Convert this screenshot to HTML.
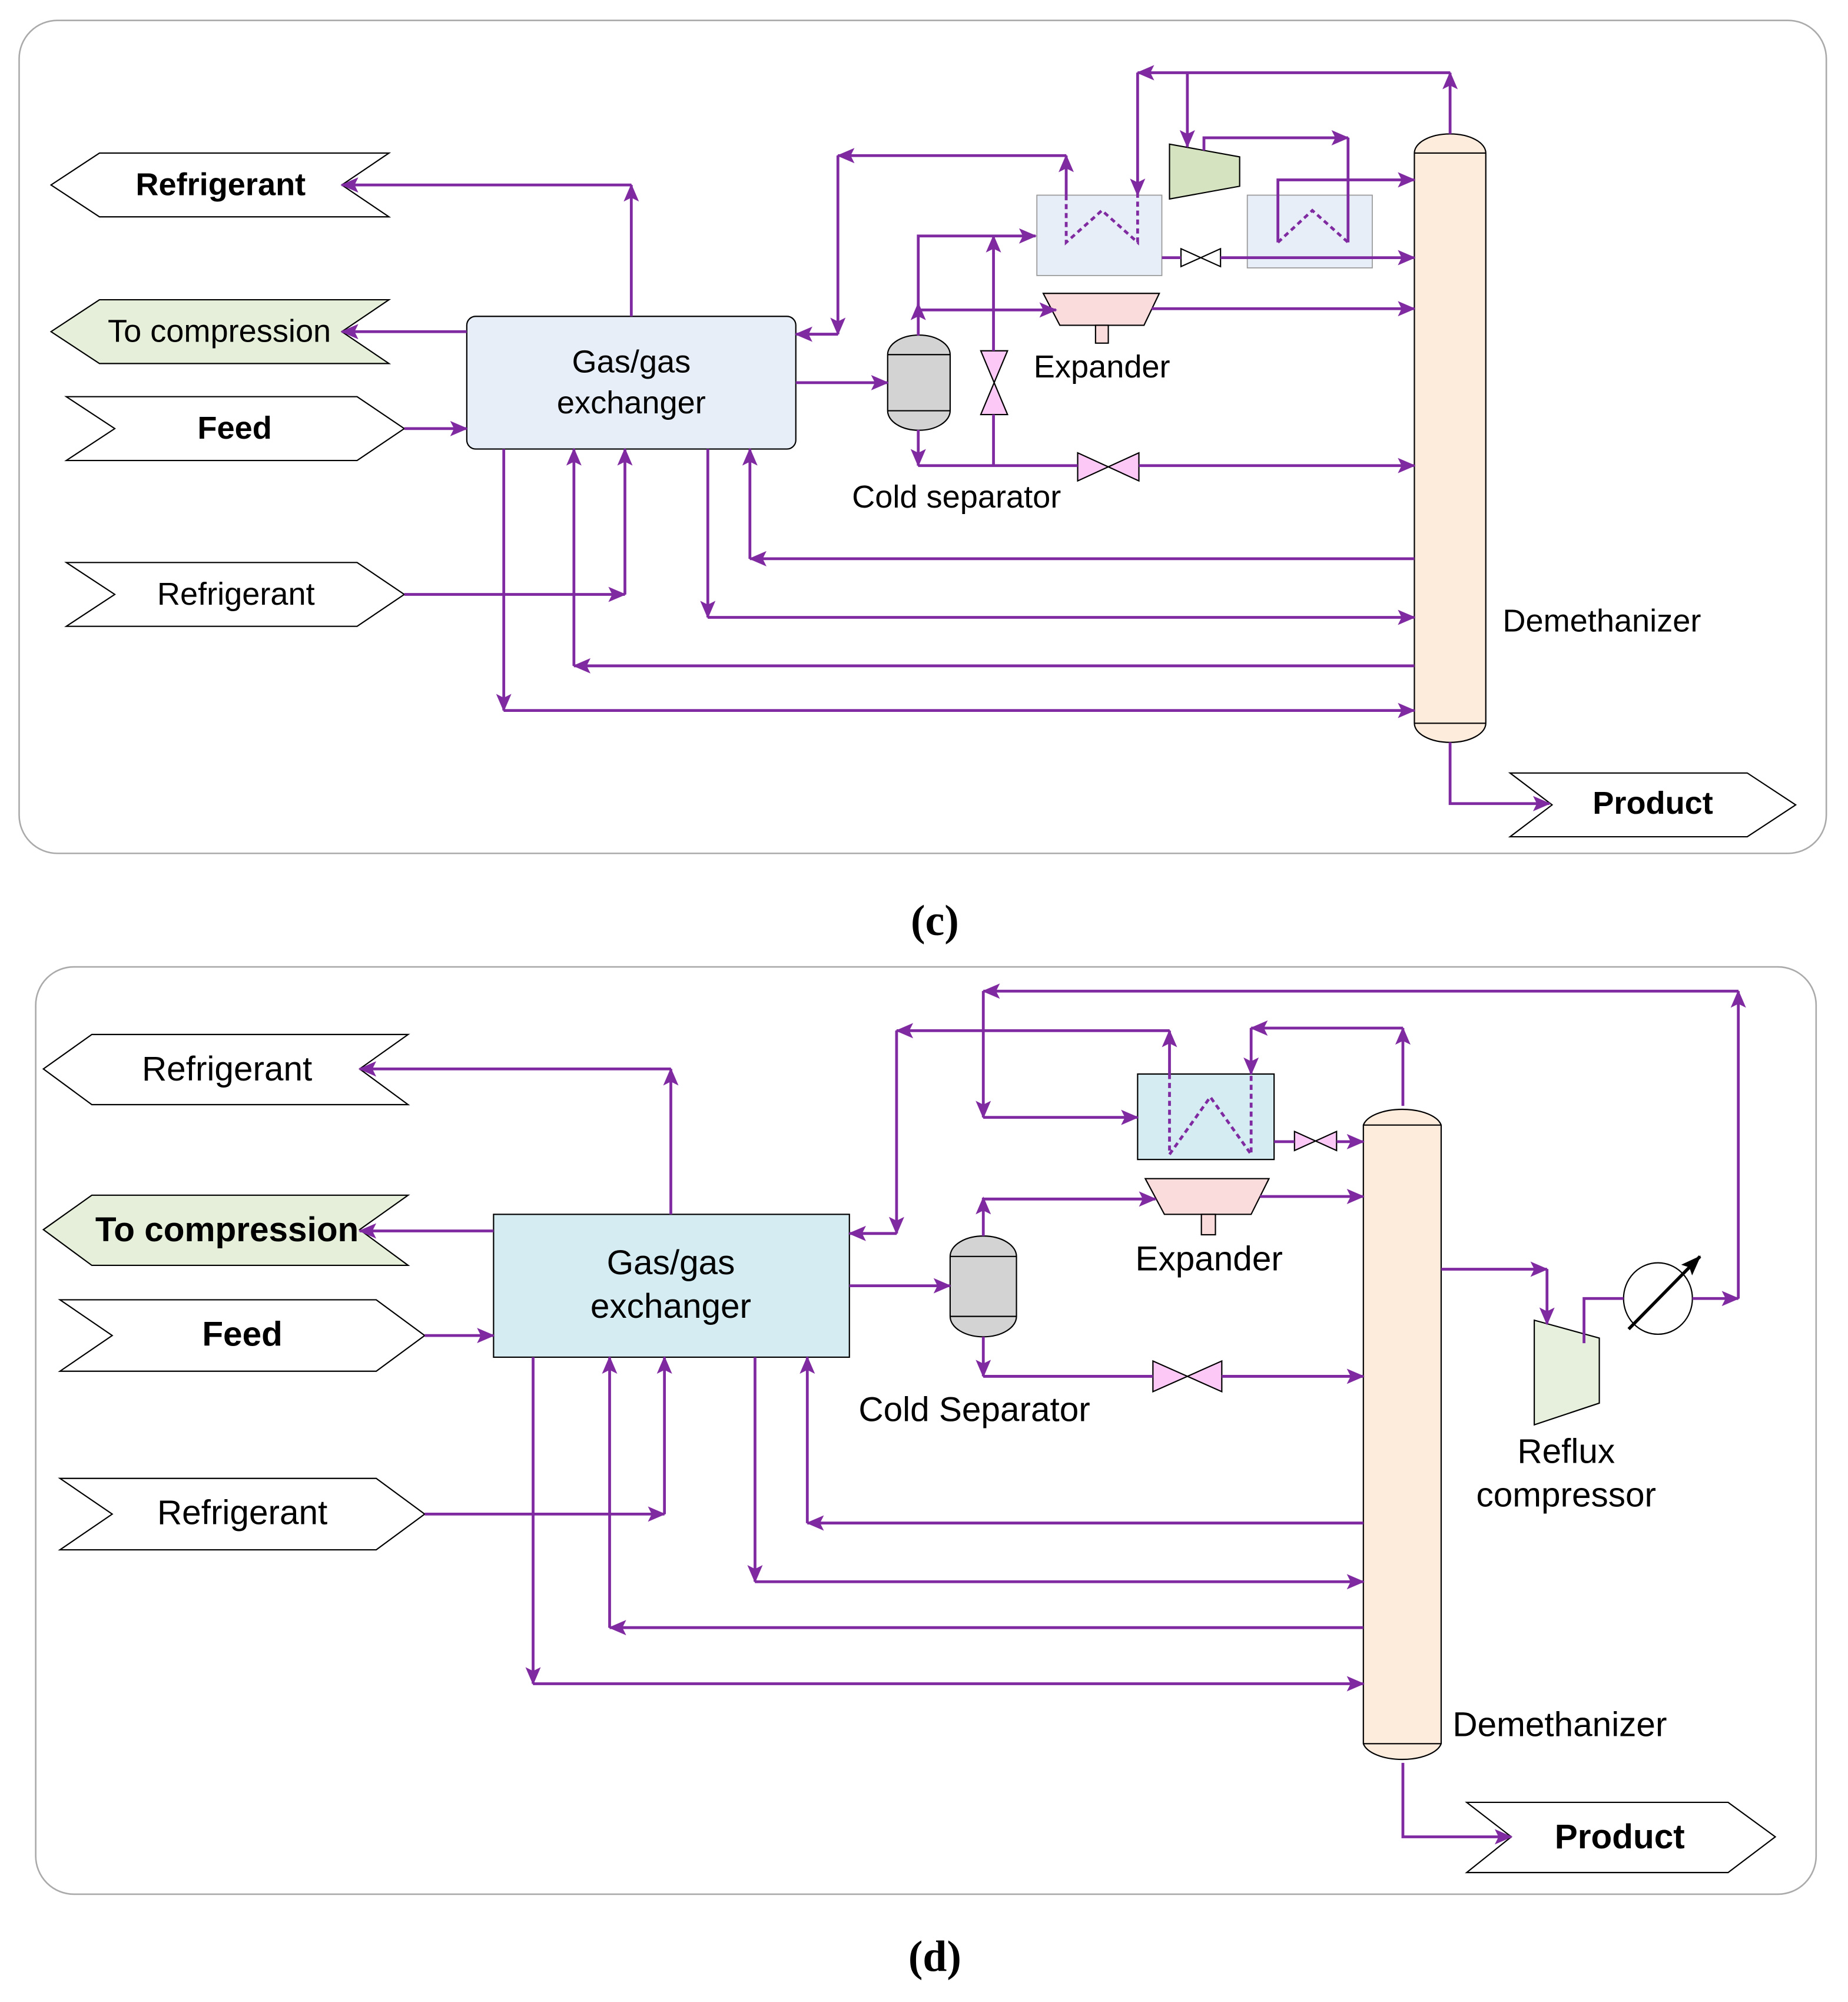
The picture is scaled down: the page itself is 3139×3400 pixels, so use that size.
<!DOCTYPE html>
<html><head><meta charset="utf-8"><style>html,body{margin:0;padding:0;background:#fff}svg{display:block}</style></head><body>
<svg width="3139" height="3400" viewBox="0 0 1449 1569.5" preserveAspectRatio="none" xmlns="http://www.w3.org/2000/svg" font-family="Liberation Sans, sans-serif">
<defs>
<marker id="a" markerUnits="userSpaceOnUse" markerWidth="14" markerHeight="12" refX="13" refY="6" orient="auto"><path d="M0,0 L14,6 L0,12 L3,6 Z" fill="#7f2aa0"/></marker>
<marker id="b" markerUnits="userSpaceOnUse" markerWidth="16" markerHeight="12" refX="15" refY="6" orient="auto"><path d="M0,0 L16,6 L0,12 L3,6 Z" fill="#000"/></marker>
</defs>
<g fill="none" stroke="#aaa" stroke-width="1.2">
<rect x="15" y="16" width="1417" height="653" rx="30"/>
<rect x="28" y="758" width="1396" height="727" rx="30"/>
</g>
<!-- ========== (c) ========== -->
<g stroke="#000" stroke-width="1">
<polygon points="40,145 78,120 305,120 268,145 305,170 78,170" fill="#fff"/>
<polygon points="40,260 78,235 305,235 268,260 305,285 78,285" fill="#e6efda"/>
<polygon points="52,311 280,311 317,336 280,361 52,361 90,336" fill="#fff"/>
<polygon points="52,441 280,441 317,466 280,491 52,491 90,466" fill="#fff"/>
<polygon points="1184,606 1370,606 1408,631 1370,656 1184,656 1217,631" fill="#fff"/>
<rect x="366" y="248" width="258" height="104" rx="7" fill="#e8eef7"/>
<path d="M696,278 A24,15 0 0 1 745,278 L745,322 A24,15 0 0 1 696,322 Z" fill="#d3d3d3"/>
<line x1="696" y1="278" x2="745" y2="278"/><line x1="696" y1="322" x2="745" y2="322"/>
<polygon points="769,275 790,275 769,325 790,325" fill="#fcc9f6"/>
<polygon points="845,355 845,377 893,355 893,377" fill="#fcc9f6"/>
<polygon points="926,195 926,209 957,195 957,209" fill="#fff"/>
<polygon points="818,230 909,230 897,255 831,255" fill="#f9dcdb"/>
<rect x="859" y="255" width="10" height="14" fill="#f9dcdb"/>
<polygon points="917,113 972,123 972,146 917,156" fill="#d5e3c0"/>
<path d="M1109,120 A28,15 0 0 1 1165,120 L1165,567 A28,15 0 0 1 1109,567 Z" fill="#fdebdc"/>
<line x1="1109" y1="120" x2="1165" y2="120"/><line x1="1109" y1="567" x2="1165" y2="567"/>
</g>
<rect x="813" y="153" width="98" height="63" fill="#e8eef7" stroke="#999" stroke-width="0.8"/>
<rect x="978" y="153" width="98" height="57" fill="#e8eef7" stroke="#999" stroke-width="0.8"/>
<g fill="none" stroke="#7f2aa0" stroke-width="2.2">
<polyline points="836,153 836,190 864,165 892,190 892,153" stroke-dasharray="4,3"/>
<polyline points="1002,190 1029,165 1057,190" stroke-dasharray="4,3"/>
<line x1="495" y1="248" x2="495" y2="145" marker-end="url(#a)"/>
<line x1="495" y1="145" x2="268" y2="145" marker-end="url(#a)"/>
<line x1="366" y1="260" x2="268" y2="260" marker-end="url(#a)"/>
<line x1="317" y1="336" x2="366" y2="336" marker-end="url(#a)"/>
<line x1="317" y1="466" x2="490" y2="466" marker-end="url(#a)"/>
<line x1="490" y1="466" x2="490" y2="352" marker-end="url(#a)"/>
<line x1="395" y1="352" x2="395" y2="557" marker-end="url(#a)"/>
<line x1="395" y1="557" x2="1109" y2="557" marker-end="url(#a)"/>
<line x1="1109" y1="522" x2="450" y2="522" marker-end="url(#a)"/>
<line x1="450" y1="522" x2="450" y2="352" marker-end="url(#a)"/>
<line x1="555" y1="352" x2="555" y2="484" marker-end="url(#a)"/>
<line x1="555" y1="484" x2="1109" y2="484" marker-end="url(#a)"/>
<line x1="1109" y1="438" x2="588" y2="438" marker-end="url(#a)"/>
<line x1="588" y1="438" x2="588" y2="352" marker-end="url(#a)"/>
<line x1="624" y1="300" x2="696" y2="300" marker-end="url(#a)"/>
<line x1="720" y1="263" x2="720" y2="238" marker-end="url(#a)"/>
<polyline points="720,240 720,185 812,185" marker-end="url(#a)"/>
<line x1="720" y1="243" x2="828" y2="243" marker-end="url(#a)"/>
<line x1="720" y1="337" x2="720" y2="365" marker-end="url(#a)"/>
<polyline points="720,365 845,365"/>
<line x1="893" y1="365" x2="1109" y2="365" marker-end="url(#a)"/>
<polyline points="779,365 779,325"/>
<line x1="779" y1="275" x2="779" y2="185" marker-end="url(#a)"/>
<line x1="836" y1="153" x2="836" y2="122" marker-end="url(#a)"/>
<line x1="836" y1="122" x2="657" y2="122" marker-end="url(#a)"/>
<line x1="657" y1="122" x2="657" y2="262" marker-end="url(#a)"/>
<line x1="657" y1="262" x2="624" y2="262" marker-end="url(#a)"/>
<line x1="1137" y1="105" x2="1137" y2="57" marker-end="url(#a)"/>
<line x1="1137" y1="57" x2="892" y2="57" marker-end="url(#a)"/>
<line x1="892" y1="57" x2="892" y2="153" marker-end="url(#a)"/>
<line x1="931" y1="57" x2="931" y2="115" marker-end="url(#a)"/>
<polyline points="944,118 944,108 1057,108" marker-end="url(#a)"/>
<polyline points="1057,108 1057,190"/>
<polyline points="1002,190 1002,141 1109,141" marker-end="url(#a)"/>
<line x1="911" y1="202" x2="926" y2="202"/>
<line x1="957" y1="202" x2="1109" y2="202" marker-end="url(#a)"/>
<line x1="903" y1="242" x2="1109" y2="242" marker-end="url(#a)"/>
<polyline points="1137,582 1137,630 1215,630" marker-end="url(#a)"/>
</g>
<g font-size="25" text-anchor="middle" fill="#000">
<text x="173" y="153" font-weight="bold">Refrigerant</text>
<text x="172" y="268">To compression</text>
<text x="184" y="344" font-weight="bold">Feed</text>
<text x="185" y="474">Refrigerant</text>
<text x="495" y="292">Gas/gas</text>
<text x="495" y="324">exchanger</text>
<text x="750" y="398">Cold separator</text>
<text x="864" y="296">Expander</text>
<text x="1256" y="495">Demethanizer</text>
<text x="1296" y="638" font-weight="bold">Product</text>
</g>
<text x="733" y="733" font-size="34" text-anchor="middle" font-family="Liberation Serif, serif" font-weight="bold">(c)</text>
<!-- ========== (d) ========== -->
<g stroke="#000" stroke-width="1">
<polygon points="34,838 72,811 320,811 282,838 320,866 72,866" fill="#fff"/>
<polygon points="34,964 72,937 320,937 282,964 320,992 72,992" fill="#e6efda"/>
<polygon points="47,1019 295,1019 333,1047 295,1075 47,1075 88,1047" fill="#fff"/>
<polygon points="47,1159 295,1159 333,1187 295,1215 47,1215 88,1187" fill="#fff"/>
<polygon points="1150,1413 1355,1413 1392,1440 1355,1468 1150,1468 1185,1440" fill="#fff"/>
<rect x="387" y="952" width="279" height="112" fill="#d5edf2"/>
<path d="M745,985 A26,16 0 0 1 797,985 L797,1032 A26,16 0 0 1 745,1032 Z" fill="#d3d3d3"/>
<line x1="745" y1="985" x2="797" y2="985"/><line x1="745" y1="1032" x2="797" y2="1032"/>
<polygon points="904,1067 904,1091 958,1067 958,1091" fill="#fcc9f6"/>
<polygon points="1015,887 1015,902 1048,887 1048,902" fill="#fcc9f6"/>
<polygon points="898,924 995,924 981,952 913,952" fill="#f9dcdb"/>
<rect x="942" y="952" width="11" height="16" fill="#f9dcdb"/>
<rect x="892" y="842" width="107" height="67" fill="#d5edf2"/>
<path d="M1069,882 A31,15 0 0 1 1130,882 L1130,1367 A31,15 0 0 1 1069,1367 Z" fill="#fdebdc"/>
<line x1="1069" y1="882" x2="1130" y2="882"/><line x1="1069" y1="1367" x2="1130" y2="1367"/>
<polygon points="1203,1035 1254,1049 1254,1100 1203,1117" fill="#e6f0dc"/>
<ellipse cx="1300" cy="1018" rx="27" ry="28" fill="#fff"/>
</g>
<line x1="1277" y1="1042" x2="1333" y2="985" stroke="#000" stroke-width="2.5" marker-end="url(#b)"/>
<g fill="none" stroke="#7f2aa0" stroke-width="2.2">
<polyline points="917,842 917,905 949,860 981,905 981,842" stroke-dasharray="4,3"/>
<line x1="526" y1="952" x2="526" y2="838" marker-end="url(#a)"/>
<line x1="526" y1="838" x2="282" y2="838" marker-end="url(#a)"/>
<line x1="387" y1="965" x2="282" y2="965" marker-end="url(#a)"/>
<line x1="333" y1="1047" x2="387" y2="1047" marker-end="url(#a)"/>
<line x1="333" y1="1187" x2="521" y2="1187" marker-end="url(#a)"/>
<line x1="521" y1="1187" x2="521" y2="1064" marker-end="url(#a)"/>
<line x1="418" y1="1064" x2="418" y2="1320" marker-end="url(#a)"/>
<line x1="418" y1="1320" x2="1069" y2="1320" marker-end="url(#a)"/>
<line x1="1069" y1="1276" x2="478" y2="1276" marker-end="url(#a)"/>
<line x1="478" y1="1276" x2="478" y2="1064" marker-end="url(#a)"/>
<line x1="592" y1="1064" x2="592" y2="1240" marker-end="url(#a)"/>
<line x1="592" y1="1240" x2="1069" y2="1240" marker-end="url(#a)"/>
<line x1="1069" y1="1194" x2="633" y2="1194" marker-end="url(#a)"/>
<line x1="633" y1="1194" x2="633" y2="1064" marker-end="url(#a)"/>
<line x1="666" y1="1008" x2="745" y2="1008" marker-end="url(#a)"/>
<line x1="771" y1="969" x2="771" y2="939" marker-end="url(#a)"/>
<line x1="771" y1="940" x2="906" y2="940" marker-end="url(#a)"/>
<line x1="988" y1="938" x2="1069" y2="938" marker-end="url(#a)"/>
<line x1="771" y1="1048" x2="771" y2="1079" marker-end="url(#a)"/>
<line x1="771" y1="1079" x2="904" y2="1079"/>
<line x1="958" y1="1079" x2="1069" y2="1079" marker-end="url(#a)"/>
<line x1="917" y1="842" x2="917" y2="808" marker-end="url(#a)"/>
<line x1="917" y1="808" x2="703" y2="808" marker-end="url(#a)"/>
<line x1="703" y1="808" x2="703" y2="967" marker-end="url(#a)"/>
<line x1="703" y1="967" x2="666" y2="967" marker-end="url(#a)"/>
<line x1="1100" y1="867" x2="1100" y2="806" marker-end="url(#a)"/>
<line x1="1100" y1="806" x2="981" y2="806" marker-end="url(#a)"/>
<line x1="981" y1="806" x2="981" y2="842" marker-end="url(#a)"/>
<line x1="1363" y1="1018" x2="1363" y2="777" marker-end="url(#a)"/>
<line x1="1363" y1="777" x2="771" y2="777" marker-end="url(#a)"/>
<line x1="771" y1="777" x2="771" y2="876" marker-end="url(#a)"/>
<line x1="771" y1="876" x2="892" y2="876" marker-end="url(#a)"/>
<line x1="999" y1="895" x2="1015" y2="895"/>
<line x1="1048" y1="895" x2="1069" y2="895" marker-end="url(#a)"/>
<line x1="1130" y1="995" x2="1213" y2="995" marker-end="url(#a)"/>
<line x1="1213" y1="995" x2="1213" y2="1038" marker-end="url(#a)"/>
<polyline points="1242,1053 1242,1018 1273,1018"/>
<line x1="1327" y1="1018" x2="1363" y2="1018" marker-end="url(#a)"/>
<polyline points="1100,1382 1100,1440 1185,1440" marker-end="url(#a)"/>
</g>
<g font-size="27" text-anchor="middle" fill="#000">
<text x="178" y="847">Refrigerant</text>
<text x="178" y="973" font-weight="bold">To compression</text>
<text x="190" y="1055" font-weight="bold">Feed</text>
<text x="190" y="1195">Refrigerant</text>
<text x="526" y="999">Gas/gas</text>
<text x="526" y="1033">exchanger</text>
<text x="764" y="1114">Cold Separator</text>
<text x="948" y="996">Expander</text>
<text x="1228" y="1147">Reflux</text>
<text x="1228" y="1181">compressor</text>
<text x="1223" y="1361">Demethanizer</text>
<text x="1270" y="1449" font-weight="bold">Product</text>
</g>
<text x="733" y="1545" font-size="34" text-anchor="middle" font-family="Liberation Serif, serif" font-weight="bold">(d)</text>
</svg>
</body></html>
